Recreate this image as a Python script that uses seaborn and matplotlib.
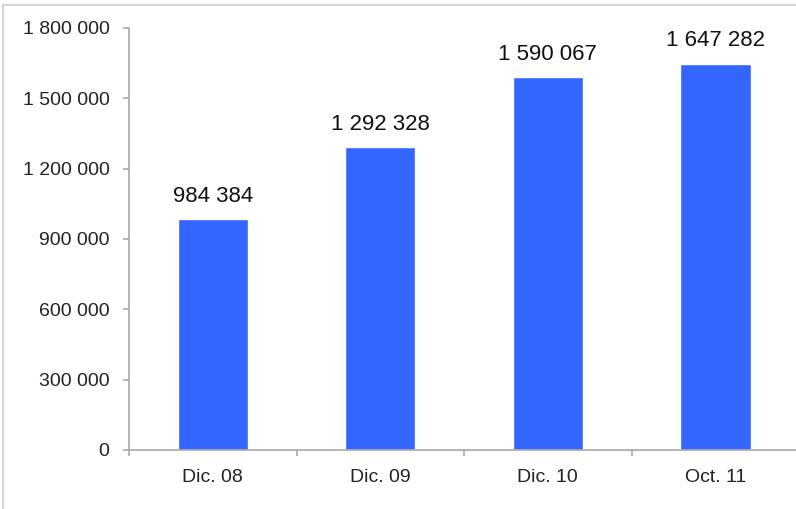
import numpy as np
import pandas as pd
import matplotlib
matplotlib.use("Agg")
import matplotlib.pyplot as plt
from matplotlib.lines import Line2D
from matplotlib.ticker import FuncFormatter, FixedLocator
import seaborn as sns

# data
periods = ["Dic. 08", "Dic. 09", "Dic. 10", "Oct. 11"]
totals = [984384, 1292328, 1590067, 1647282]
y_ticks = [0, 300000, 600000, 900000, 1200000, 1500000, 1800000]


def fmt_num(v, pos=None):
    return f"{int(round(v)):,}".replace(",", " ")


sns.set_style("white")
plt.rcParams["font.family"] = ["Liberation Sans", "DejaVu Sans"]

df = pd.DataFrame({"period": periods, "total": totals})

fig = plt.figure(figsize=(7.96, 5.09), dpi=100)
ax = fig.add_axes([0.162, 0.116, 0.842, 0.829])

sns.barplot(data=df, x="period", y="total", color="#3366FF", width=0.42,
            saturation=1, ax=ax)

ax.set_xlim(-0.5, 3.5)
ax.set_ylim(0, 1800000)
ax.yaxis.set_major_locator(FixedLocator(y_ticks))
ax.yaxis.set_major_formatter(FuncFormatter(fmt_num))

# value labels above bars
for i, v in enumerate(totals):
    ax.annotate(fmt_num(v), (i, v), xytext=(0, 12.5), textcoords="offset points",
                ha="center", va="baseline", fontsize=16, color="#111111")

ax.set_xlabel("")
ax.set_ylabel("")

axis_col = "#a8a8a8"
for side in ["top", "right"]:
    ax.spines[side].set_visible(False)
for side in ["left", "bottom"]:
    ax.spines[side].set_color(axis_col)
    ax.spines[side].set_linewidth(1.2)

# ticks between categories on x, outward ticks on y
ax.set_xticks([-0.5, 0.5, 1.5, 2.5, 3.5], minor=True)
ax.tick_params(axis="x", which="major", length=0, pad=14, labelsize=14,
               labelcolor="#222222")
ax.tick_params(axis="x", which="minor", length=4, width=1.2, color=axis_col,
               direction="out", bottom=True)
ax.tick_params(axis="y", which="major", length=4, width=1.2, color=axis_col,
               direction="out", left=True, pad=10, labelsize=14,
               labelcolor="#222222")

# light frame at the figure's top-left edge
frame_col = "#cccccc"
fig.add_artist(Line2D([3 / 796, 3 / 796], [0, 1 - 5 / 509], color=frame_col,
                      lw=1.2, transform=fig.transFigure))
fig.add_artist(Line2D([3 / 796, 1], [1 - 5 / 509, 1 - 5 / 509], color=frame_col,
                      lw=1.2, transform=fig.transFigure))

fig.savefig("out.png", dpi=100, facecolor="white")
